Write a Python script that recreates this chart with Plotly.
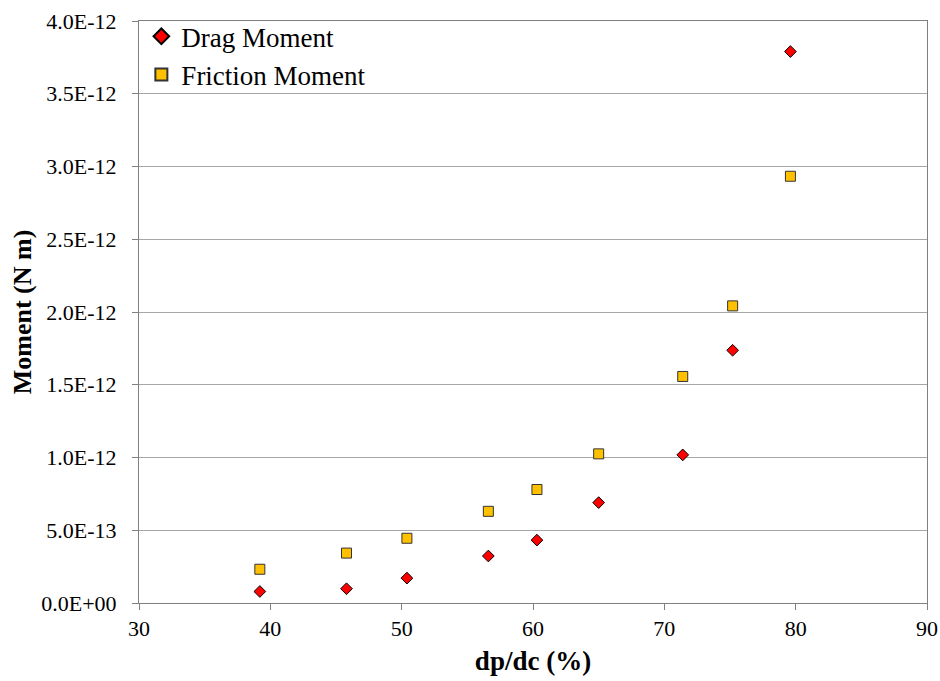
import plotly.graph_objects as go

# Particle-to-channel diameter ratio (%)
dp_dc = [39.2, 45.8, 50.4, 56.6, 60.3, 65.0, 71.4, 75.2, 79.6]
# Moments (N m)
drag_moment = [7.9e-14, 9.8e-14, 1.71e-13, 3.23e-13, 4.32e-13, 6.9e-13, 1.018e-12, 1.737e-12, 3.79e-12]
friction_moment = [2.32e-13, 3.43e-13, 4.45e-13, 6.3e-13, 7.8e-13, 1.025e-12, 1.557e-12, 2.042e-12, 2.933e-12]

y_ticks = [0, 5e-13, 1e-12, 1.5e-12, 2e-12, 2.5e-12, 3e-12, 3.5e-12, 4e-12]
y_tick_labels = ["0.0E+00", "5.0E-13", "1.0E-12", "1.5E-12", "2.0E-12",
                 "2.5E-12", "3.0E-12", "3.5E-12", "4.0E-12"]
x_ticks = [30, 40, 50, 60, 70, 80, 90]
y_range = [0, 4e-12]

serif = "Liberation Serif, Times New Roman, serif"

fig = go.Figure()
fig.add_trace(go.Scatter(
    x=dp_dc, y=drag_moment, mode="markers", name="Drag Moment",
    marker=dict(symbol="diamond", size=9, color="#FF0000",
                line=dict(color="#000000", width=1)),
))
fig.add_trace(go.Scatter(
    x=dp_dc, y=friction_moment, mode="markers", name="Friction Moment",
    marker=dict(symbol="square", size=10, color="#FFC000",
                line=dict(color="#333333", width=1)),
))
# invisible companion trace so the label axis (y2) is rendered
fig.add_trace(go.Scatter(
    x=dp_dc, y=friction_moment, yaxis="y2", mode="markers",
    marker=dict(opacity=0), showlegend=False, hoverinfo="skip",
))

fig.update_layout(
    width=940, height=681,
    margin=dict(l=139, r=13, t=17, b=78),
    paper_bgcolor="white", plot_bgcolor="white",
    font=dict(family=serif, color="black", size=22),
    showlegend=True,
    legend=dict(x=0.003, y=1.015, xanchor="left", yanchor="top",
                bgcolor="rgba(255,255,255,0)", borderwidth=0,
                font=dict(family=serif, size=27, color="black"),
                itemsizing="constant", tracegroupgap=0, itemwidth=30),
    xaxis=dict(
        range=[30, 90], tickvals=x_ticks, ticks="outside", ticklen=6,
        tickcolor="#808080", showgrid=False, zeroline=False, automargin=False,
        showline=True, linecolor="#808080", linewidth=1, mirror=True,
        tickfont=dict(family=serif, size=22),
        title=dict(text="<b>dp/dc (%)</b>", font=dict(family=serif, size=27), standoff=10),
    ),
    # grid, frame and short tick marks
    yaxis=dict(
        range=y_range, tickvals=y_ticks, showticklabels=False,
        ticks="outside", ticklen=6, tickcolor="#808080", automargin=False,
        showgrid=True, gridcolor="#A6A6A6", gridwidth=1, zeroline=False,
        showline=True, linecolor="#808080", linewidth=1, mirror=True,
        title=dict(text="<b>Moment (N m)</b>", font=dict(family=serif, size=26), standoff=92),
    ),
    # tick labels, set back from the axis line
    yaxis2=dict(
        overlaying="y", side="left", range=y_range,
        tickvals=y_ticks, ticktext=y_tick_labels,
        ticks="outside", ticklen=17, tickcolor="rgba(0,0,0,0)", automargin=False,
        showgrid=False, zeroline=False, showline=False,
        tickfont=dict(family=serif, size=22),
    ),
)

fig.write_html("out.html")
